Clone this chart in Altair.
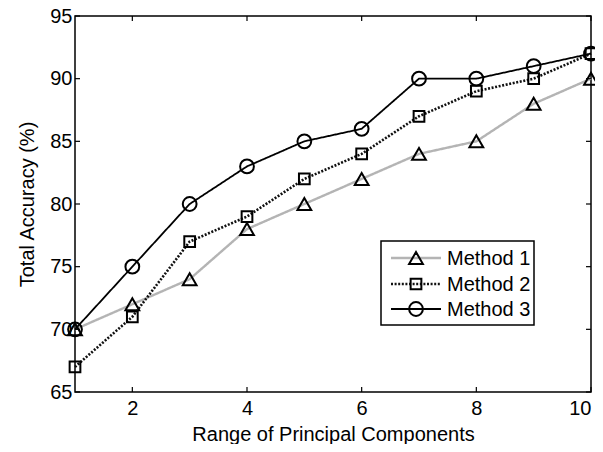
import altair as alt
import pandas as pd

x_vals = [1, 2, 3, 4, 5, 6, 7, 8, 9, 10]
method1 = [70, 72, 74, 78, 80, 82, 84, 85, 88, 90]
method2 = [67, 71, 77, 79, 82, 84, 87, 89, 90, 92]
method3 = [70, 75, 80, 83, 85, 86, 90, 90, 91, 92]
series_names = ["Method 1", "Method 2", "Method 3"]
x_ticks = [2, 4, 6, 8, 10]
y_ticks = [65, 70, 75, 80, 85, 90, 95]

W, H = 516, 376
FONT = "Liberation Sans"
FS = 20

styles = {
    "Method 1": dict(color="#b4b4b4", dash=[1, 0], shape="triangle-up", width=2.4, msize=190),
    "Method 2": dict(color="#111111", dash=[2, 1.6], shape="square", width=2.6, msize=115),
    "Method 3": dict(color="#000000", dash=[1, 0], shape="circle", width=1.8, msize=190),
}

xs = alt.Scale(domain=[1, 10], nice=False)
ys = alt.Scale(domain=[65, 95], nice=False)
x_axis = alt.Axis(values=x_ticks, format="d", ticks=False, domain=False, grid=False, labelPadding=6,
                  title="Range of Principal Components", titlePadding=6)
y_axis = alt.Axis(values=y_ticks, format="d", ticks=False, domain=False, grid=False, labelPadding=3,
                  title="Total Accuracy (%)", titlePadding=12)

layers = []
for name, vals in zip(series_names, [method1, method2, method3]):
    st = styles[name]
    df = pd.DataFrame({"x": x_vals, "y": vals})
    base = alt.Chart(df).encode(
        x=alt.X("x:Q", scale=xs, axis=x_axis),
        y=alt.Y("y:Q", scale=ys, axis=y_axis),
    )
    layers.append(base.mark_line(color=st["color"], strokeWidth=st["width"], strokeDash=st["dash"]))
    layers.append(base.mark_point(shape=st["shape"], filled=False, stroke="black",
                                  strokeWidth=2, size=st["msize"], opacity=1))

# inward ticks
xt = pd.DataFrame({"x": x_ticks})
yt = pd.DataFrame({"y": y_ticks})
layers.append(alt.Chart(xt).mark_rule(color="black", strokeWidth=1.2).encode(
    x=alt.X("x:Q", scale=xs), y=alt.value(H), y2=alt.value(H - 5)))
layers.append(alt.Chart(xt).mark_rule(color="black", strokeWidth=1.2).encode(
    x=alt.X("x:Q", scale=xs), y=alt.value(0), y2=alt.value(5)))
layers.append(alt.Chart(yt).mark_rule(color="black", strokeWidth=1.2).encode(
    y=alt.Y("y:Q", scale=ys), x=alt.value(0), x2=alt.value(5)))
layers.append(alt.Chart(yt).mark_rule(color="black", strokeWidth=1.2).encode(
    y=alt.Y("y:Q", scale=ys), x=alt.value(W), x2=alt.value(W - 5)))

# legend
dummy = pd.DataFrame({"a": [0]})
layers.append(alt.Chart(dummy).mark_rect(fill="white", stroke="black", strokeWidth=1.5).encode(
    x=alt.value(306), x2=alt.value(459), y=alt.value(225), y2=alt.value(309)))
row_y = [242, 268, 293]
for name, ry in zip(series_names, row_y):
    st = styles[name]
    layers.append(alt.Chart(dummy).mark_rule(color=st["color"], strokeWidth=st["width"],
                                             strokeDash=st["dash"]).encode(
        x=alt.value(316), x2=alt.value(366), y=alt.value(ry)))
    layers.append(alt.Chart(dummy).mark_point(shape=st["shape"], filled=False, stroke="black",
                                              strokeWidth=2, size=st["msize"], opacity=1).encode(
        x=alt.value(341), y=alt.value(ry)))
    layers.append(alt.Chart(pd.DataFrame({"t": [name]})).mark_text(
        align="left", baseline="middle", font=FONT, fontSize=FS, color="black").encode(
        x=alt.value(372), y=alt.value(ry + 1), text="t:N"))

chart = alt.layer(*layers).properties(
    width=W, height=H,
    background="white",
    padding={"left": 67, "top": 8, "right": 4, "bottom": 52},
    autosize=alt.AutoSizeParams(type="none"),
).configure_view(stroke="black", strokeWidth=1.5).configure_axis(
    labelFont=FONT, titleFont=FONT, labelFontSize=FS, titleFontSize=FS,
    labelColor="black", titleColor="black", titleFontWeight="normal",
)

chart.save("out.html", embed_options={"renderer": "svg", "actions": False})
